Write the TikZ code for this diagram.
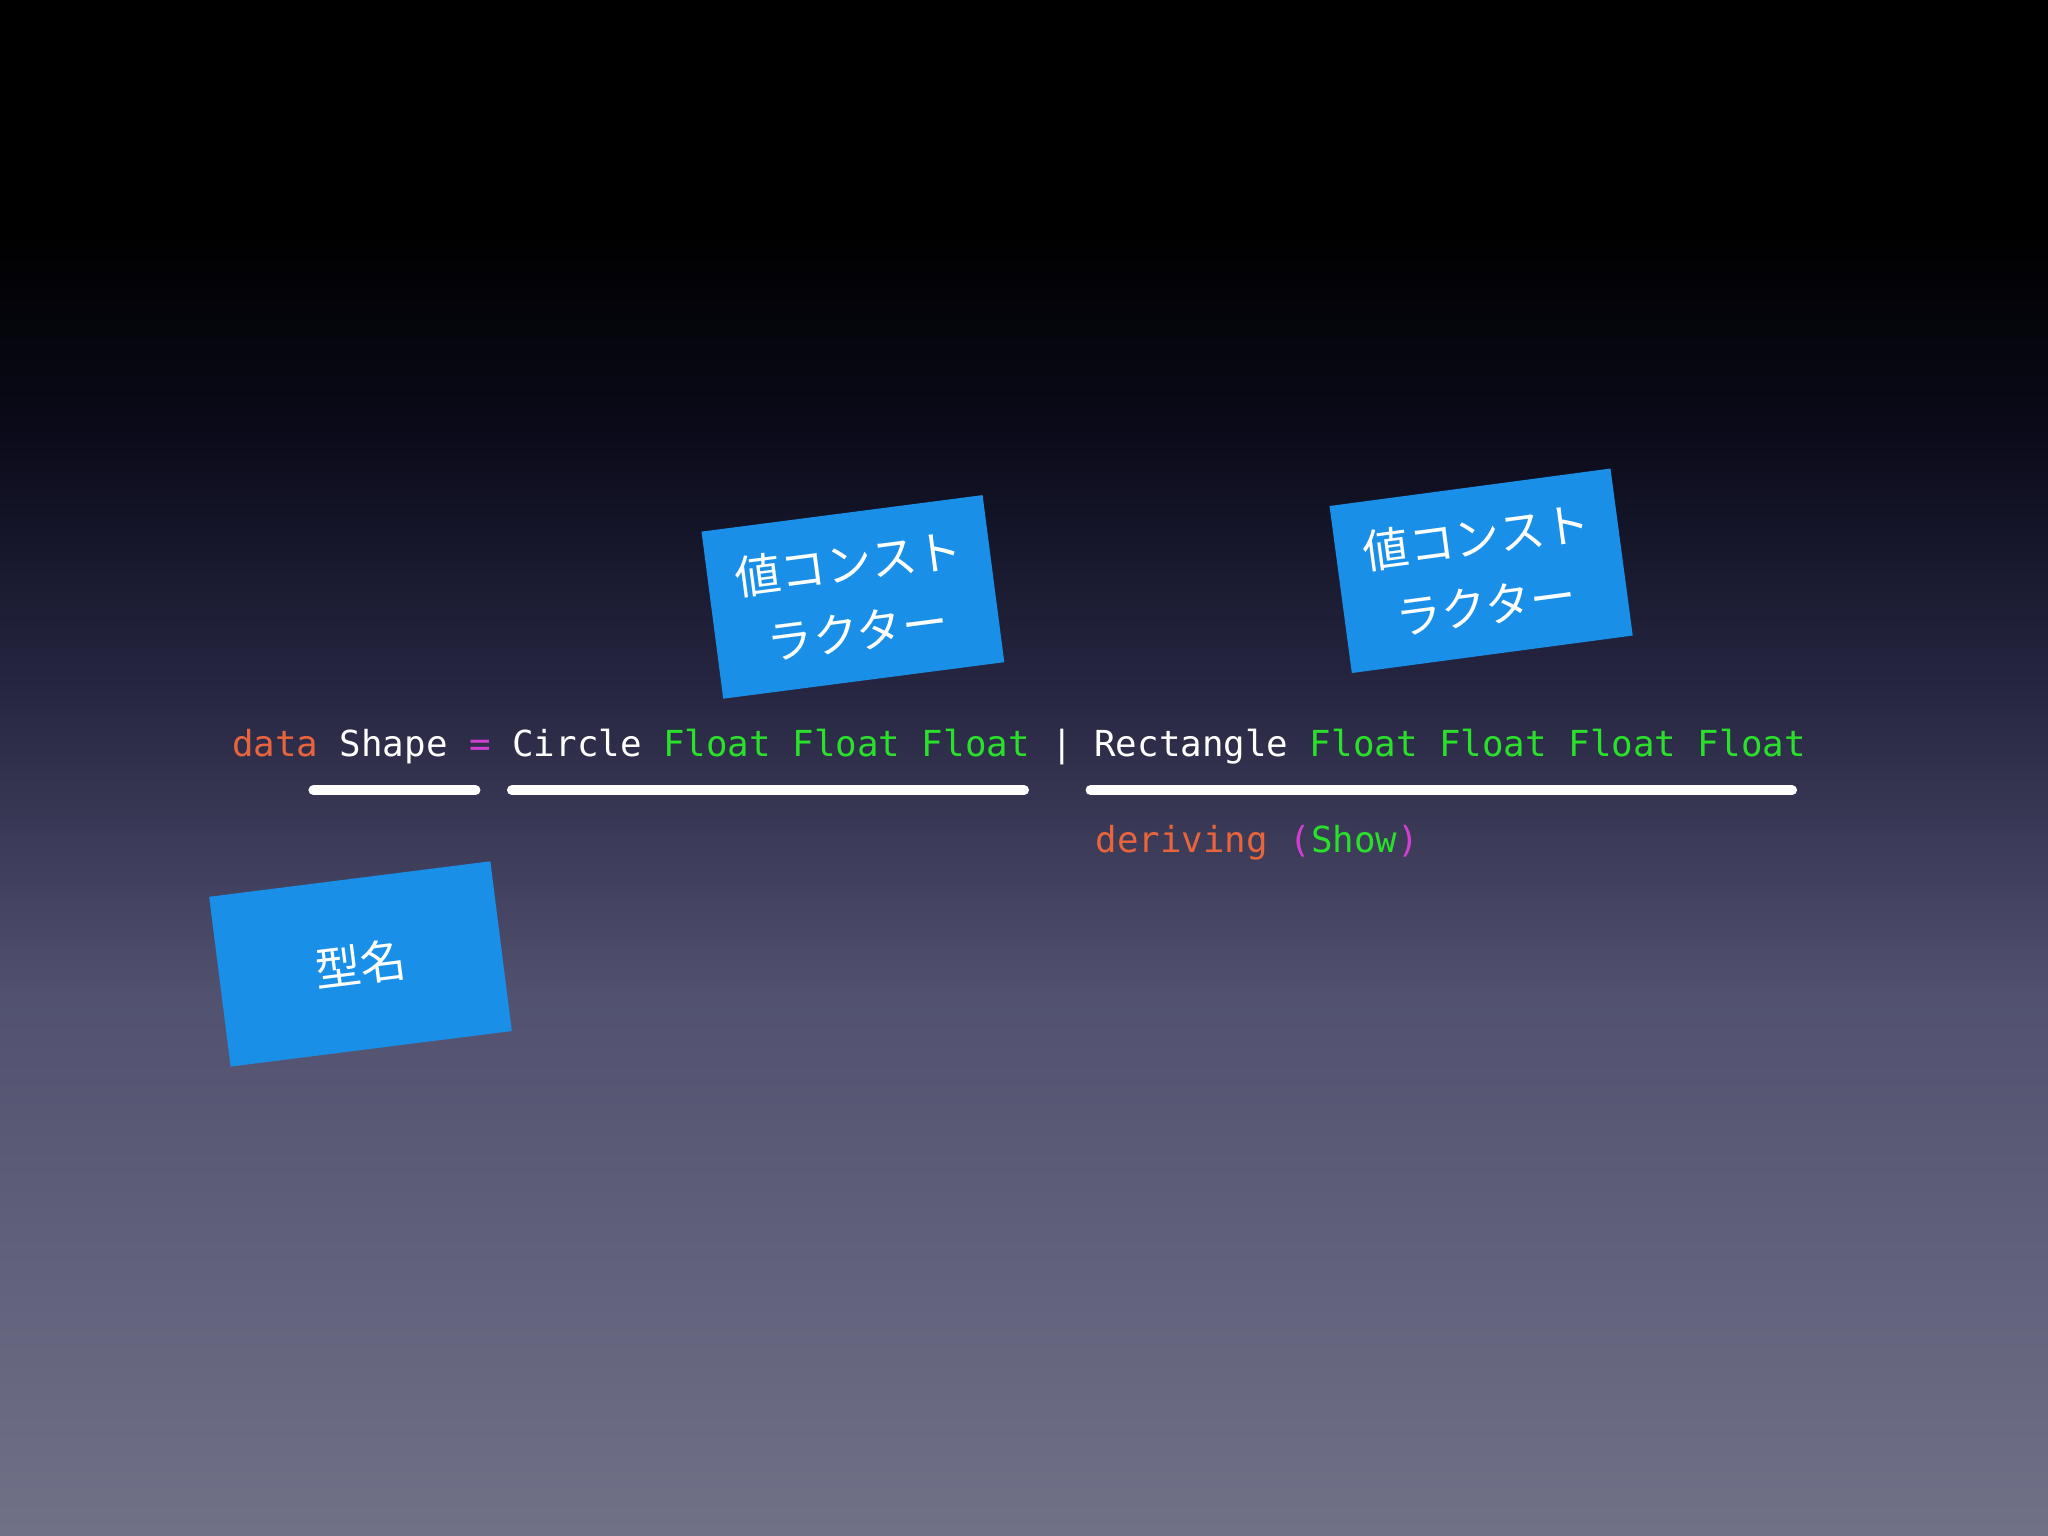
\documentclass[tikz,border=0pt]{standalone}
\usepackage{fontspec}
\setmonofont{DejaVu Sans Mono}
\newfontfamily\cjk{Noto Sans CJK JP}
\definecolor{kw}{HTML}{E8643C}
\definecolor{ty}{HTML}{2AE02A}
\definecolor{op}{HTML}{D040D0}
\definecolor{boxb}{HTML}{1A8FE8}
\pgfdeclareverticalshading{bg}{100bp}{rgb(0bp)=(0.44,0.44,0.53); rgb(25bp)=(0.44,0.44,0.53); rgb(42.5bp)=(0.32,0.32,0.44); rgb(52.5bp)=(0.15,0.15,0.26); rgb(61bp)=(0.04,0.04,0.10); rgb(67.5bp)=(0,0,0); rgb(100bp)=(0,0,0)}
\newlength\pxu \setlength\pxu{0.1mm}
\tikzset{
  lbl/.style={fill=boxb,minimum width=217\pxu,minimum height=129\pxu,text=white,font=\cjk\fontsize{10}{15}\selectfont,align=center,inner sep=0pt},
  brush/.style={white,line width=2.2pt,line cap=round},
  code/.style={text=white,font=\ttfamily\fontsize{7.8}{9}\selectfont,inner sep=0pt}
}
\begin{document}
\begin{tikzpicture}[x=0.1mm,y=-0.1mm]
\shade[shading=bg] (0,0) rectangle (1568,1176);
\useasboundingbox (0,0) rectangle (1568,1176);
\node[code,anchor=base west] (line) at (177,579) {\textcolor{kw}{data} Shape \textcolor{op}{=} Circle \textcolor{ty}{Float Float Float} | Rectangle \textcolor{ty}{Float Float Float Float}};
\node[code,anchor=base west] (der) at (838,653) {\textcolor{kw}{deriving} \textcolor{op}{(}\textcolor{ty}{Show}\textcolor{op}{)}};
\coordinate (a1) at (240,605); \coordinate (a2) at (364,605);
\coordinate (b1) at (392,605); \coordinate (b2) at (784,605);
\coordinate (c1) at (835,605); \coordinate (c2) at (1372,605);
\draw[brush] (a1) -- (a2);
\draw[brush] (b1) -- (b2);
\draw[brush] (c1) -- (c2);
\node[lbl,rotate=7.4] (v1) at (653,457) {値コンスト\\ラクター};
\node[lbl,rotate=7.6] (v2) at (1134,437) {値コンスト\\ラクター};
\node[lbl,rotate=7.2,minimum height=131\pxu] (t) at (276,738) {型名};
\end{tikzpicture}
\end{document}
